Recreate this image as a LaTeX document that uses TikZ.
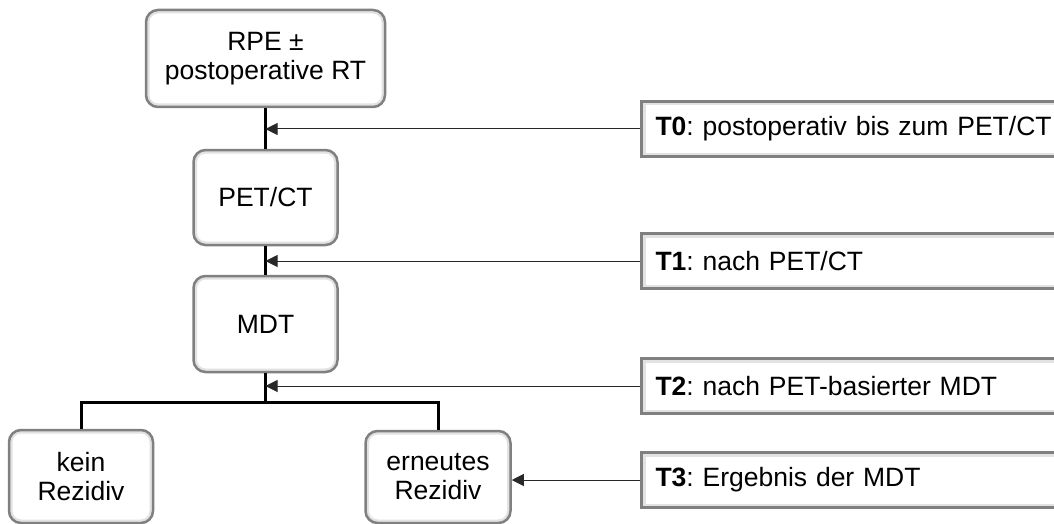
\documentclass[tikz,border=0pt]{standalone}
\usepackage{fontspec}
\setmainfont{Liberation Sans}
\frenchspacing
\usetikzlibrary{arrows.meta}
\definecolor{boxgray}{RGB}{128,128,128}
\definecolor{innergray}{RGB}{226,226,226}
\definecolor{pointergray}{RGB}{40,40,40}
\begin{document}
\begin{tikzpicture}[x=1pt,y=-1pt,
  txt/.style={font=\fontsize{26.5}{29}\selectfont\frenchspacing},
  flowbox/.style={txt, draw=boxgray, line width=2.5pt, rounded corners=12pt,
    fill=white, align=center, inner sep=0pt,
    path picture={\draw[innergray, line width=7pt, rounded corners=12pt]
      (path picture bounding box.south west) rectangle (path picture bounding box.north east);}},
  tbox/.style={txt, draw=boxgray, line width=3pt, fill=white, anchor=west,
    text width=440pt, inner xsep=14pt, inner ysep=0pt, minimum height=55pt, align=left,
    path picture={\draw[innergray, line width=8pt]
      (path picture bounding box.south west) rectangle (path picture bounding box.north east);}},
  trunk/.style={line width=3pt, black},
  pointer/.style={line width=1pt, pointergray, -{Triangle[length=12pt,width=12pt]}}
]
\useasboundingbox (0,0) rectangle (1054,524);
\clip (0,0) rectangle (1054,524);

% main column
\node[flowbox, minimum width=239pt, minimum height=97pt] (rpe) at (265.5,58.5) {RPE ±\\postoperative RT};
\node[flowbox, minimum width=144pt, minimum height=95pt] (pet) at (265.5,197.5) {PET/CT};
\node[flowbox, minimum width=144pt, minimum height=96pt] (mdt) at (265.5,324) {MDT};
\node[flowbox, minimum width=144pt, minimum height=93pt] (kein) at (81,476.5) {kein\\Rezidiv};
\node[flowbox, minimum width=145pt, minimum height=92pt] (ern) at (438,477) {erneutes\\Rezidiv};
\coordinate (split) at (265.5,402);

% time point boxes
\node[tbox] (t0) at (640,129) {\textbf{T0}: postoperativ bis zum PET/CT};
\node[tbox] (t1) at (640,261) {\textbf{T1}: nach PET/CT};
\node[tbox] (t2) at (640,386) {\textbf{T2}: nach PET-basierter MDT};
\node[tbox] (t3) at (640,480) {\textbf{T3}: Ergebnis der MDT};

% trunk
\draw[trunk] (rpe.south) -- (pet.north);
\draw[trunk] (pet.south) -- (mdt.north);
\draw[trunk] (mdt.south) -- (split);
\draw[trunk] (kein.north) -- (kein.north |- split) -- (ern.north |- split) -- (ern.north);

% pointers
\draw[pointer] (t0.west) -- (t0.west -| rpe.south);
\draw[pointer] (t1.west) -- (t1.west -| pet.south);
\draw[pointer] (t2.west) -- (t2.west -| mdt.south);
\draw[pointer] (t3.west) -- (t3.west -| ern.east);
\end{tikzpicture}
\end{document}
